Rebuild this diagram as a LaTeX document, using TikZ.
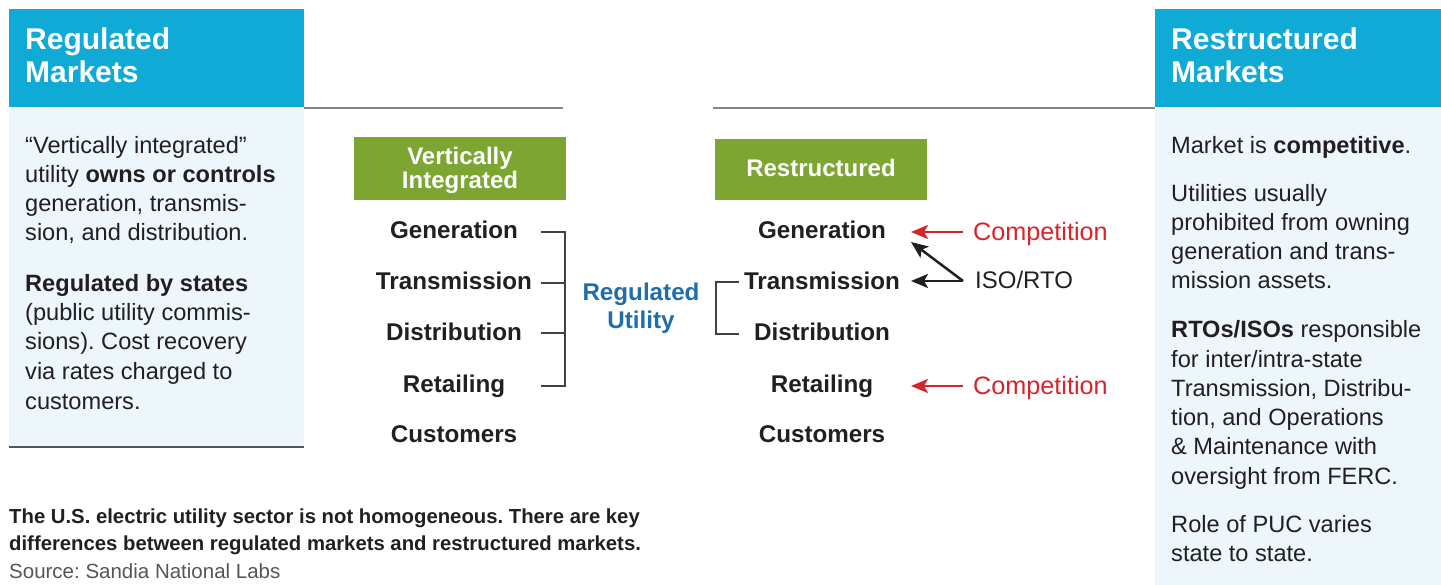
\documentclass[tikz,border=0pt]{standalone}
\usepackage{fontspec}
\setmainfont{Liberation Sans}
\usetikzlibrary{arrows.meta}
\frenchspacing

\definecolor{hdrblue}{HTML}{0FAAD6}
\definecolor{panelbg}{HTML}{EDF6FA}
\definecolor{boxgreen}{HTML}{7DA532}
\definecolor{utilblue}{HTML}{1E6EAB}
\definecolor{compred}{HTML}{D7232B}
\definecolor{ink}{HTML}{231F20}
\definecolor{rulegray}{HTML}{858585}
\definecolor{srcgray}{HTML}{555555}

\newcommand\fsz[1]{\fontsize{#1}{#1}\selectfont}

\begin{document}
\begin{tikzpicture}[x=1pt,y=-1pt,
  hdr/.style={anchor=base west, inner sep=0, text=white, font=\fsz{30}\bfseries},
  bodytext/.style={anchor=base west, inner sep=0, text=ink, font=\fsz{23.6}},
  stage/.style={anchor=base, inner sep=0, text=ink, font=\fsz{24.2}\bfseries},
  boxtext/.style={anchor=base, inner sep=0, text=white, font=\fsz{24}\bfseries},
  utiltext/.style={anchor=base, inner sep=0, text=utilblue, font=\fsz{24.2}\bfseries},
  compnote/.style={anchor=base west, inner sep=0, text=compred, font=\fsz{25.2}},
  isonote/.style={anchor=base west, inner sep=0, text=ink, font=\fsz{24}},
  captext/.style={anchor=base west, inner sep=0, text=ink, font=\fsz{20.3}\bfseries},
  bracket/.style={draw=ink!85, line width=1.4pt},
  rule/.style={draw=rulegray, line width=2.6pt},
  redarrow/.style={draw=compred, line width=2.5pt, -{Stealth[length=17pt,width=14pt,inset=4pt]}},
  blkarrow/.style={draw=ink, line width=2.5pt, -{Stealth[length=17pt,width=14pt,inset=4pt]}},
]
\useasboundingbox (0,0) rectangle (1441,585);

% panel backgrounds
\fill[hdrblue] (9,9) rectangle (304,107.3);
\fill[panelbg] (9,108.7) rectangle (304,447);
\draw[srcgray, line width=1.5pt] (9,447) -- (304,447);
\fill[hdrblue] (1155,9) rectangle (1441,107.3);
\fill[panelbg] (1155,108.7) rectangle (1441,585);

% grey rules under the headers
\draw[rule] (304,108) -- (563,108);
\draw[rule] (713,108) -- (1155,108);

% headers
\node[hdr] (hl1) at (25,50) {Regulated};
\node[hdr] (hl2) at (25,83) {Markets};
\node[hdr] (hr1) at (1171,50) {Restructured};
\node[hdr] (hr2) at (1171,83) {Markets};

% left panel text
\foreach \yy/\tt [count=\i] in {
  154/{“Vertically integrated”},
  183/{utility \textbf{owns or controls}},
  212/{generation, transmis-},
  241/{sion, and distribution.},
  292/{\textbf{Regulated by states}},
  321/{(public utility commis-},
  350/{sions). Cost recovery},
  380/{via rates charged to},
  409/{customers.}}
  \node[bodytext] (lp\i) at (25,\yy) {\tt};

% right panel text
\foreach \yy/\tt [count=\i] in {
  154/{Market is \textbf{competitive}.},
  202/{Utilities usually},
  231/{prohibited from owning},
  260/{generation and trans-},
  289/{mission assets.},
  338/{\textbf{RTOs/ISOs} responsible},
  367/{for inter/intra-state},
  396/{Transmission, Distribu-},
  425/{tion, and Operations},
  454/{\& Maintenance with},
  484/{oversight from FERC.},
  532/{Role of PUC varies},
  561/{state to state.}}
  \node[bodytext] (rp\i) at (1171,\yy) {\tt};

% green column headings
\node[fill=boxgreen, minimum width=212pt, minimum height=63pt, inner sep=0] (vibox) at (460,168.5) {};
\node[boxtext] (vi1) at (vibox.center |- 0,165) {Vertically};
\node[boxtext] (vi2) at (vibox.center |- 0,189) {Integrated};
\node[fill=boxgreen, minimum width=212pt, minimum height=61pt, inner sep=0] (rsbox) at (821,169.5) {};
\node[boxtext] (rs1) at (rsbox.center |- 0,177) {Restructured};

% value-chain stages
\foreach \nm/\yy/\tt in {g/239/Generation, t/290/Transmission, d/341/Distribution, r/392/Retailing, c/442/Customers}{
  \node[stage] (l\nm) at (454,\yy) {\tt};
  \node[stage] (r\nm) at (822,\yy) {\tt};
}

% regulated-utility brackets
\coordinate (lb1) at (541,232);
\coordinate (lb2) at (541,283);
\coordinate (lb3) at (541,333);
\coordinate (lb4) at (541,386);
\coordinate (lbv) at (565,0);
\draw[bracket] (lb1) -- (lb1 -| lbv) -- (lb4 -| lbv) -- (lb4);
\draw[bracket] (lb2) -- (lb2 -| lbv);
\draw[bracket] (lb3) -- (lb3 -| lbv);

\coordinate (rb1) at (739,282);
\coordinate (rb2) at (739,334);
\coordinate (rbv) at (716,0);
\draw[bracket] (rb1) -- (rb1 -| rbv) -- (rb2 -| rbv) -- (rb2);

\node[utiltext] (ru1) at (641,301) {Regulated};
\node[utiltext] (ru2) at (641,329) {Utility};

% competition and ISO/RTO notes
\node[compnote] (comp1) at (973,241) {Competition};
\node[compnote] (comp2) at (973,395) {Competition};
\node[isonote] (iso) at (975,289) {ISO/RTO};

\coordinate (cs1) at (963,232);
\coordinate (ct1) at (911,232);
\coordinate (cs2) at (963,386);
\coordinate (ct2) at (911,386);
\coordinate (is) at (963,281);
\coordinate (it1) at (911,281);
\coordinate (it2) at (911,242);
\draw[redarrow] (cs1) -- (ct1);
\draw[redarrow] (cs2) -- (ct2);
\draw[blkarrow] (is) -- (it1);
\draw[blkarrow, line join=miter] (is) -- (it2);

% caption
\node[captext] (cap1) at (9,523) {The U.S. electric utility sector is not homogeneous. There are key};
\node[captext] (cap2) at (9,550) {differences between regulated markets and restructured markets.};
\node[anchor=base west, inner sep=0, text=srcgray, font=\fsz{20.5}] (src) at (9,578.5) {Source: Sandia National Labs};
\end{tikzpicture}
\end{document}
